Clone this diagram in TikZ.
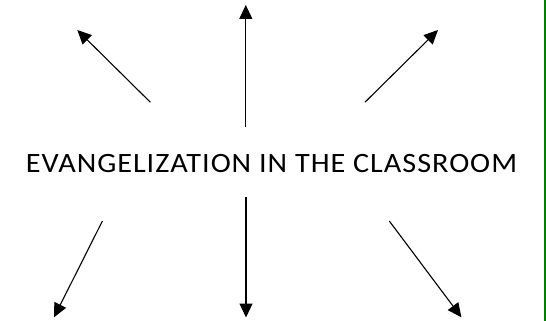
\documentclass[tikz,border=0pt]{standalone}
\usepackage{fontspec}
\setmainfont{Carlito}
\newfontfamily\titlefont[LetterSpace=3.5,FakeStretch=1.08]{Carlito}
\usetikzlibrary{arrows.meta}
\definecolor{edgegreen}{RGB}{0,128,0}
\tikzset{
  ray/.style={draw=black, line width=1.1pt, -{Triangle[length=14pt,width=13pt]}},
  title/.style={font=\titlefont\fontsize{28}{32}\selectfont, inner sep=0pt, anchor=base}
}
\begin{document}
\begin{tikzpicture}[x=1pt,y=-1pt]
\useasboundingbox (0,0) rectangle (546,321);
\node[title] (t) at (271.5,172.3) {EVANGELIZATION IN THE CLASSROOM};
% start points
\coordinate (s1) at (150.4,102.3);
\coordinate (s2) at (245.8,126.7);
\coordinate (s3) at (364.9,102.3);
\coordinate (s4) at (102.4,221);
\coordinate (s5) at (246,197);
\coordinate (s6) at (389.3,221);
% tips
\coordinate (e1) at (77.3,30);
\coordinate (e2) at (245.8,5);
\coordinate (e3) at (438,30);
\coordinate (e4) at (54,317.3);
\coordinate (e5) at (246,317.5);
\coordinate (e6) at (461.4,317.3);
\foreach \i in {1,...,6} {\draw[ray] (s\i) -- (e\i);}
\coordinate (gtop) at (545,0);
\coordinate (gbot) at (545,321);
\draw[edgegreen, line width=2pt] (gtop) -- (gbot);
\end{tikzpicture}
\end{document}
